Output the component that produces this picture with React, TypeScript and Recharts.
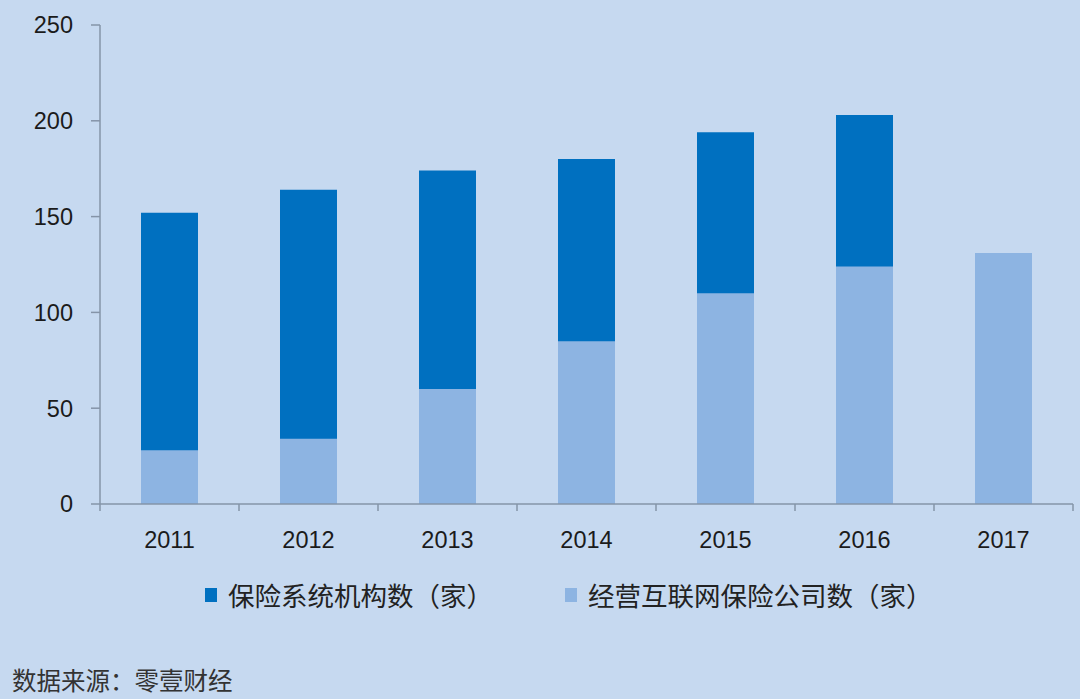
import { BarChart, Bar, XAxis, YAxis, Legend } from "recharts";

const years = ["2011", "2012", "2013", "2014", "2015", "2016", "2017"];
const totalInstitutions = [152, 164, 174, 180, 194, 203, null];
const internetInsurers = [28, 34, 60, 85, 110, 124, 131];
const yTicks = [0, 50, 100, 150, 200, 250];

const data = years.map((year, i) => ({
  year,
  total: totalInstitutions[i],
  internet: internetInsurers[i],
}));

const DARK = "#0070c0";
const LIGHT = "#8db4e2";
const AXIS = "#8594a8";
const FONT = "'Liberation Sans', Arial, sans-serif";
const CJK = "'Noto Sans CJK SC', sans-serif";
const TICK_MARGIN = 27;

// category label plus a tick mark on the boundary between categories
function YearTick(props: any) {
  const { x, y, payload, index, visibleTicksCount } = props;
  const half = payload && payload.offset ? payload.offset : 973 / years.length / 2;
  const axisY = y - TICK_MARGIN;
  const isLast = index === (visibleTicksCount ?? years.length) - 1;
  return (
    <g>
      <line x1={x - half} x2={x - half} y1={axisY} y2={axisY + 7} stroke={AXIS} strokeWidth={1.5} />
      {isLast && (
        <line x1={x + half} x2={x + half} y1={axisY} y2={axisY + 7} stroke={AXIS} strokeWidth={1.5} />
      )}
      <text x={x} y={y} dy="0.71em" textAnchor="middle" fill="#1b1b1b" fontSize={23.5} fontFamily={FONT}>
        {payload.value}
      </text>
    </g>
  );
}

function LegendBox({ payload }: any) {
  return (
    <div style={{ display: "flex", fontFamily: CJK, fontSize: 26.5, color: "#222" }}>
      {(payload || []).map((p: any, i: number) => (
        <div key={i} style={{ display: "flex", alignItems: "center", marginRight: 72 }}>
          <span style={{ width: 12, height: 14, background: p.color, display: "inline-block", marginRight: 11 }} />
          <span>{p.value}</span>
        </div>
      ))}
    </div>
  );
}

export default function App() {
  return (
    <div style={{ position: "fixed", left: 0, top: 0, width: 1080, height: 699, background: "#c6d9f0" }}>
      <BarChart
        width={1080}
        height={699}
        data={data}
        margin={{ top: 25, right: 7, bottom: 155, left: 0 }}
        barSize={57}
        barGap={-57}
      >
        <XAxis
          dataKey="year"
          height={40}
          tickSize={0}
          tickMargin={TICK_MARGIN}
          tickLine={false}
          axisLine={{ stroke: AXIS, strokeWidth: 1.5 }}
          tick={<YearTick />}
        />
        <YAxis
          width={100}
          domain={[0, 250]}
          ticks={yTicks}
          tickSize={9}
          tickMargin={18}
          axisLine={{ stroke: AXIS, strokeWidth: 1.5 }}
          tickLine={{ stroke: AXIS, strokeWidth: 1.5 }}
          tick={{ fill: "#1b1b1b", fontSize: 23.5, fontFamily: FONT }}
        />
        <Legend
          verticalAlign="middle"
          content={<LegendBox />}
          wrapperStyle={{ top: 575, left: 205, width: 870 }}
        />
        <Bar dataKey="total" name="保险系统机构数（家）" fill={DARK} isAnimationActive={false} />
        <Bar dataKey="internet" name="经营互联网保险公司数（家）" fill={LIGHT} isAnimationActive={false} />
      </BarChart>
      <div
        style={{
          position: "absolute",
          left: 12,
          top: 664,
          fontFamily: CJK,
          fontSize: 24.5,
          color: "#333",
          lineHeight: "32px",
        }}
      >
        数据来源：零壹财经
      </div>
    </div>
  );
}
